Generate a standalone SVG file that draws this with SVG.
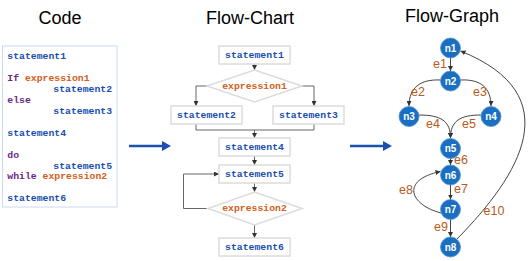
<svg xmlns="http://www.w3.org/2000/svg" width="530" height="261" viewBox="0 0 530 261">
<defs>
<style>
.title{font-family:"Liberation Sans",Arial,sans-serif;font-size:18px;fill:#000;text-anchor:middle}
.code{font-family:"Liberation Mono","Courier New",monospace;font-size:9.8px;font-weight:bold}
.st{fill:#1a4fb0}
.kw{fill:#6a2a8a}
.ex{fill:#d2601a}
.box{fill:#fff;stroke:#dcdcdc;stroke-width:1.5}
.fc{font-family:"Liberation Mono","Courier New",monospace;font-size:9.8px;font-weight:bold;text-anchor:middle;dominant-baseline:central}
.fl{fill:none;stroke:#666;stroke-width:1}
.node circle{fill:#1a6fc0;stroke:#4f92d4;stroke-width:0.8}
.node text{font-family:"Liberation Sans",Arial,sans-serif;font-size:10px;font-weight:bold;fill:#fff;text-anchor:middle;dominant-baseline:central}
.ge{fill:none;stroke:#444;stroke-width:1}
.el{font-family:"Liberation Sans",Arial,sans-serif;font-size:12.5px;fill:#b85a1a;text-anchor:middle;dominant-baseline:central}
.big{stroke:#1a50b0;stroke-width:2.5}
</style>
<marker id="a" viewBox="0 0 6 6" refX="6" refY="3" markerWidth="5" markerHeight="5" orient="auto" markerUnits="userSpaceOnUse">
<path d="M0,0 L6,3 L0,6 z" fill="#333"/>
</marker>
</defs>

<!-- Titles -->
<text class="title" x="60" y="24">Code</text>
<text class="title" x="250" y="24">Flow-Chart</text>
<text class="title" x="452" y="22">Flow-Graph</text>

<!-- Code pane -->
<g id="code">
<rect x="2.5" y="46" width="114.5" height="161" fill="#fff" stroke="#c8daf0" stroke-width="1"/>
<text class="code" xml:space="preserve">
<tspan class="st" x="7.3" y="58.5">statement1</tspan>
<tspan class="kw" x="7.3" y="80.8">If </tspan><tspan class="ex">expression1</tspan>
<tspan class="st" x="53.3" y="91.5">statement2</tspan>
<tspan class="kw" x="7.3" y="102.5">else</tspan>
<tspan class="st" x="53.3" y="113.5">statement3</tspan>
<tspan class="st" x="7.3" y="135.5">statement4</tspan>
<tspan class="kw" x="7.3" y="157.5">do</tspan>
<tspan class="st" x="53.3" y="168.5">statement5</tspan>
<tspan class="kw" x="7.3" y="179.2">while </tspan><tspan class="ex">expression2</tspan>
<tspan class="st" x="7.3" y="201.2">statement6</tspan>
</text>
</g>

<!-- Big arrows -->
<g id="arrows-big">
<line class="big" x1="129" y1="146" x2="163" y2="146"/>
<polygon points="162,141 171,146 162,151" fill="#1a50b0"/>
<line class="big" x1="350" y1="146" x2="384" y2="146"/>
<polygon points="383,141 392,146 383,151" fill="#1a50b0"/>
</g>

<!-- Flow chart connectors -->
<g id="fc-connectors">
<line class="fl" x1="254.5" y1="64" x2="254.5" y2="70" marker-end="url(#a)"/>
<polyline class="fl" points="207,86 196,86 196,106" marker-end="url(#a)"/>
<polyline class="fl" points="302,86 314,86 314,106" marker-end="url(#a)"/>
<polyline class="fl" points="196,124 196,130 314,130 314,124"/>
<line class="fl" x1="254.5" y1="130" x2="254.5" y2="138" marker-end="url(#a)"/>
<line class="fl" x1="254.5" y1="156" x2="254.5" y2="165" marker-end="url(#a)"/>
<line class="fl" x1="254.5" y1="183" x2="254.5" y2="192" marker-end="url(#a)"/>
<line class="fl" x1="254.5" y1="225" x2="254.5" y2="238" marker-end="url(#a)"/>
<polyline class="fl" points="208,208.5 183.5,208.5 183.5,174 219,174" marker-end="url(#a)"/>
</g>

<!-- Flow chart nodes -->
<g id="fc-s1"><rect class="box" x="219" y="46" width="71" height="18"/><text class="fc st" x="254.5" y="55">statement1</text></g>
<g id="fc-e1"><polygon class="box" points="254.5,70 302,86 254.5,102 207,86"/><text class="fc ex" x="254.5" y="86">expression1</text></g>
<g id="fc-s2"><rect class="box" x="171" y="106" width="71" height="18"/><text class="fc st" x="206.5" y="115">statement2</text></g>
<g id="fc-s3"><rect class="box" x="273" y="106" width="71" height="18"/><text class="fc st" x="308.5" y="115">statement3</text></g>
<g id="fc-s4"><rect class="box" x="219" y="138" width="71" height="18"/><text class="fc st" x="254.5" y="147">statement4</text></g>
<g id="fc-s5"><rect class="box" x="219" y="165" width="71" height="18"/><text class="fc st" x="254.5" y="174">statement5</text></g>
<g id="fc-e2"><polygon class="box" points="254.5,192 302,208.5 254.5,225 208,208.5"/><text class="fc ex" x="254.5" y="208.5">expression2</text></g>
<g id="fc-s6"><rect class="box" x="219" y="238" width="71" height="18"/><text class="fc st" x="254.5" y="247">statement6</text></g>

<!-- Flow graph edges -->
<g id="fg-edges">
<line class="ge" x1="450.5" y1="58" x2="450.5" y2="71" marker-end="url(#a)"/>
<path class="ge" d="M440.5,80 C420,79 409,88 409,106" marker-end="url(#a)"/>
<path class="ge" d="M460.5,80 C481,79 491,88 491,106" marker-end="url(#a)"/>
<path class="ge" d="M419,115 C441,115 450.5,121 450.5,138" marker-end="url(#a)"/>
<path class="ge" d="M481,115 C460,115 450.5,121 450.5,138" marker-end="url(#a)"/>
<line class="ge" x1="450.5" y1="158.5" x2="450.5" y2="165" marker-end="url(#a)"/>
<line class="ge" x1="450.5" y1="185" x2="450.5" y2="199.5" marker-end="url(#a)"/>
<path class="ge" d="M441,213 C410,205 400,180 440.5,171.5" marker-end="url(#a)"/>
<line class="ge" x1="450.5" y1="219.5" x2="450.5" y2="237" marker-end="url(#a)"/>
<path class="ge" d="M457,239 C520,175 570,95 460.5,51" marker-end="url(#a)"/>
</g>

<g id="fg-labels">
<text class="el" x="440" y="64">e1</text>
<text class="el" x="418" y="92">e2</text>
<text class="el" x="480" y="92">e3</text>
<text class="el" x="433" y="124">e4</text>
<text class="el" x="469" y="124">e5</text>
<text class="el" x="461" y="160">e6</text>
<text class="el" x="461" y="189">e7</text>
<text class="el" x="406" y="190">e8</text>
<text class="el" x="441" y="227">e9</text>
<text class="el" x="494" y="211">e10</text>
</g>

<!-- Flow graph nodes -->
<g id="n1" class="node"><circle cx="450.5" cy="48" r="10"/><text x="450.5" y="48">n1</text></g>
<g id="n2" class="node"><circle cx="450.5" cy="81" r="10"/><text x="450.5" y="81">n2</text></g>
<g id="n3" class="node"><circle cx="409" cy="116.5" r="10"/><text x="409" y="116.5">n3</text></g>
<g id="n4" class="node"><circle cx="491" cy="116.5" r="10"/><text x="491" y="116.5">n4</text></g>
<g id="n5" class="node"><circle cx="450.5" cy="148.5" r="10"/><text x="450.5" y="148.5">n5</text></g>
<g id="n6" class="node"><circle cx="450.5" cy="175" r="10"/><text x="450.5" y="175">n6</text></g>
<g id="n7" class="node"><circle cx="450.5" cy="209.5" r="10"/><text x="450.5" y="209.5">n7</text></g>
<g id="n8" class="node"><circle cx="450.5" cy="247" r="10"/><text x="450.5" y="247">n8</text></g>
</svg>
